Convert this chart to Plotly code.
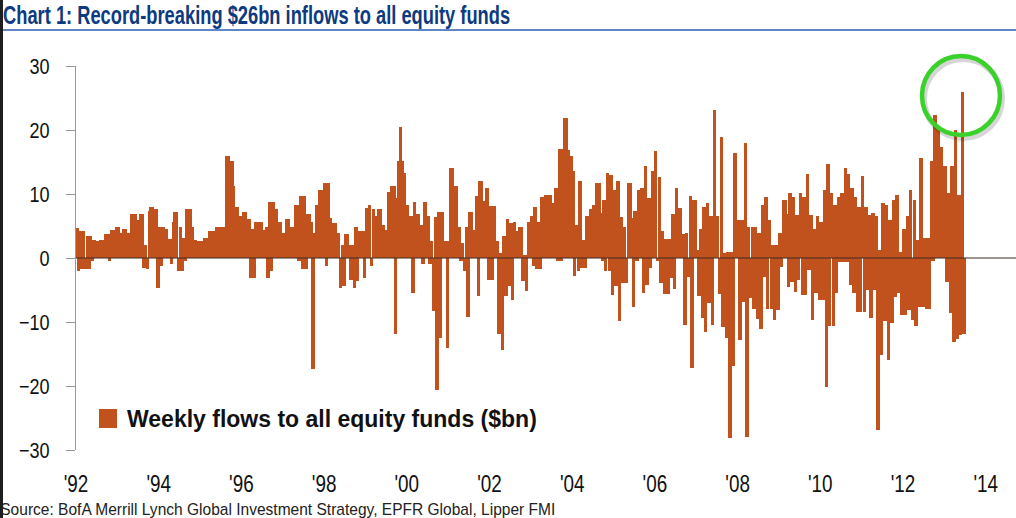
import plotly.graph_objects as go

# Weekly flows to all equity funds ($bn), read from the chart as
# semi-monthly readings (two per month) for each year
flows_1992 = [4.7,-2.1, 4.2,-1.7, 4.2,-1.7, 3.5,-1.7, 3.5,-0.5, 2.8,2.6, 2.6,2.4, 2.8,2.5, 2.8,3.8, 3.8,-0.5, 4.3,3.6, 4.3,4.9]
flows_1993 = [4.9,3.9, 3.9,4.6, 4.6,3.9, 3.9,3.9, 6.9,6.6, 6.9,5.9, 5.9,6.9, 6.9,-1.6, 2.1,-1.7, 7.3,8.0, 8.0,7.1, 7.6,-4.7]
flows_1994 = [4.9,-1.3, 4.8,4.5, 4.5,2.9, 2.9,-0.9, 5.7,7.2, 7.2,-2.1, 4.9,-2.1, 3.1,-0.5, 7.7,7.7, 7.6,4.9, 2.8,2.8, 2.6,2.6]
flows_1995 = [2.6,2.6, 3.1,3.1, 3.1,4.2, 4.2,4.2, 3.4,4.9, 4.9,4.9, 4.9,4.9, 4.2,15.9, 15.9,15.1, 15.1,11.3, 8.0,8.0, 6.5,6.5]
flows_1996 = [6.5,7.2, 7.2,6.1, 6.1,-3.2, 4.5,-3.2, 5.7,5.7, 5.7,5.7, 4.3,4.3, 4.9,-3.2, 8.7,-2.1, 8.7,7.7, 7.7,5.7, 5.7,3.9]
flows_1997 = [3.9,3.9, 6.1,6.1, 4.9,4.9, 4.9,8.3, 8.3,-0.5, 9.7,-1.7, 9.7,-1.7, 6.8,6.8, 5.7,-17.4, 3.9,8.3, 8.3,10.7, 10.7,8.3]
flows_1998 = [11.7,-1.3, 11.7,6.2, 5.5,5.5, 5.5,3.9, 3.9,-4.7, 2.0,-4.4, 3.8,3.8, 2.0,-3.4, 2.0,-4.7, 4.9,-3.6, 4.2,4.2, 4.2,-3.1]
flows_1999 = [7.8,7.8, 8.3,-1.3, 7.7,6.6, 6.6,7.7, 7.7,5.2, 5.2,4.4, 4.4,10.3, 10.3,11.3, 11.3,-11.8, 9.4,15.1, 20.4,15.1, 13.3,8.3]
flows_2000 = [8.3,6.5, 6.5,-5.4, 8.7,6.8, 6.8,5.1, 5.1,-1.0, 8.7,6.5, 6.5,-1.0, 2.6,-8.3, 6.4,-20.6, 7.2,-12.5, 7.2,2.6, 2.6,-14.1]
flows_2001 = [2.6,14.0, 14.0,11.2, 11.2,4.9, 4.9,-0.5, 2.3,-2.1, 4.9,-9.2, 7.2,7.2, 4.4,4.4, 9.7,-6.0, 12.1,12.1, 8.9,8.9, 10.9,-3.4]
flows_2002 = [8.1,-3.4, 8.1,2.6, 2.6,-11.8, 0.8,-14.3, 3.4,-6.0, 6.1,-4.4, 5.5,-6.5, 5.7,4.2, 4.2,4.9, 4.9,-3.6, 0.5,-5.1, 5.7,5.7]
flows_2003 = [6.5,-1.3, 8.0,-1.7, 5.7,-1.7, 9.5,9.5, 9.9,9.9, 9.9,9.9, 8.6,8.6, 10.9,-0.5, 17.0,-0.5, 17.0,21.9, 21.9,16.9, 15.9,15.9]
flows_2004 = [13.6,-2.8, 5.2,-2.1, 12.1,-1.6, 2.8,-1.6, 6.5,6.5, 7.7,7.7, 8.3,8.3, 11.7,11.7, 7.0,-0.5, 9.1,-2.1, 13.3,-2.1, 12.9,-5.8]
flows_2005 = [10.7,-4.4, 12.1,-9.9, 6.4,-3.9, 4.9,-3.9, 11.7,11.7, 6.2,-7.7, 7.3,-0.5, 10.7,10.7, 10.9,-5.4, 14.3,-4.2, 9.4,-1.6, 13.6,13.6]
flows_2006 = [16.7,-0.5, 12.7,-3.9, 4.2,-5.7, 2.9,-5.7, 2.9,-3.1, 6.9,-4.8, 10.9,7.8, 7.8,3.8, 3.8,-10.4, 3.9,-2.9, 9.7,-17.2, 9.1,9.1]
flows_2007 = [1.3,-6.0, 4.5,-9.4, 8.0,-11.5, 8.6,-7.0, 6.5,-10.4, 23.1,6.5, 6.5,-5.7, 18.9,-10.8, 0.8,-12.5, 1.0,-28.1, 1.0,-16.8, 16.4,6.0]
flows_2008 = [6.0,-12.8, 6.0,-6.8, 18.0,-27.9, 4.9,-6.3, 4.9,-7.9, 4.9,-9.6, 3.9,-11.1, 8.3,-2.9, 9.5,-7.9, 6.0,-7.9, 2.0,-9.7, 2.0,-8.1]
flows_2009 = [3.9,-1.4, 9.1,9.1, 6.8,-4.5, 10.2,-3.7, 9.5,-5.3, 6.7,-3.4, 10.1,-5.8, 9.6,-5.8, 13.2,-1.9, 6.7,-9.7, 4.6,-5.5, 6.5,-6.6]
flows_2010 = [5.7,-6.6, 10.6,-20.1, 14.7,-10.7, 10.2,-10.7, 8.3,-5.5, 9.5,-0.7, 10.1,-0.7, 14.0,-0.7, 13.2,-4.2, 10.9,-5.5, 9.6,-8.4, 8.0,-8.4]
flows_2011 = [12.8,-8.4, 8.0,-5.0, 6.7,-9.4, 7.1,-5.0, 6.5,-26.9, 1.3,-15.2, 8.6,-9.9, 8.3,-15.9, 5.9,-10.2, 9.0,-6.1, 9.8,-5.5, 1.0,-8.9]
flows_2012 = [4.6,-8.9, 6.5,-8.1, 10.6,-9.7, 9.1,-10.7, 2.8,-7.6, 15.6,-7.6, 3.1,-7.9, 3.1,-7.9, 15.1,-0.5, 22.3,20.3, 20.3,17.3, 17.3,14.4]
flows_2013 = [14.4,-3.7, 10.1,-8.6, 14.4,-13.1, 20.0,-12.6, 9.8,-12.0, 26.0,-11.8]

flows_by_year = {
    1992: flows_1992, 1993: flows_1993, 1994: flows_1994, 1995: flows_1995,
    1996: flows_1996, 1997: flows_1997, 1998: flows_1998, 1999: flows_1999,
    2000: flows_2000, 2001: flows_2001, 2002: flows_2002, 2003: flows_2003,
    2004: flows_2004, 2005: flows_2005, 2006: flows_2006, 2007: flows_2007,
    2008: flows_2008, 2009: flows_2009, 2010: flows_2010, 2011: flows_2011,
    2012: flows_2012, 2013: flows_2013,
}

tick_years = list(range(1992, 2015, 2))
tick_labels = ["'92", "'94", "'96", "'98", "'00", "'02", "'04", "'06", "'08", "'10", "'12", "'14"]
y_ticks = [30, 20, 10, 0, -10, -20, -30]

title_text = "Chart 1: Record-breaking $26bn inflows to all equity funds"
legend_text = "Weekly flows to all equity funds ($bn)"
source_text = "Source: BofA Merrill Lynch Global Investment Strategy, EPFR Global, Lipper FMI"

xs, ys = [], []
for yr, vals in flows_by_year.items():
    n = 24
    for i, v in enumerate(vals):
        xs.append(yr + (i + 0.5) / n)
        ys.append(v)

BAR = "#C1521E"
SANS = "Liberation Sans, Arial, sans-serif"

fig = go.Figure()
fig.add_trace(go.Bar(
    x=xs, y=ys, width=0.082,
    marker=dict(color=BAR, line=dict(width=0)),
    showlegend=False, hoverinfo="x+y",
))

W, H = 1016, 518
ML, MR, MT, MB = 76, 0, 66, 68
pw, ph = W - ML - MR, H - MT - MB

def px_x(p):
    return (p - ML) / pw

def px_y(p):
    return (H - MB - p) / ph

shapes = [
    dict(type="line", xref="paper", yref="y", x0=0, x1=1, y0=0, y1=0,
         line=dict(color="#3b2a20", width=1), layer="above"),
    dict(type="line", xref="paper", yref="paper", x0=px_x(3), x1=px_x(1016),
         y0=px_y(30), y1=px_y(30), line=dict(color="#5f86c6", width=2)),
    dict(type="rect", xref="paper", yref="paper", x0=px_x(0), x1=px_x(3),
         y0=px_y(518), y1=px_y(0), fillcolor="#1e1e1e", line=dict(width=0)),
    dict(type="rect", xref="paper", yref="paper", x0=px_x(99), x1=px_x(117),
         y0=px_y(428), y1=px_y(409), fillcolor=BAR, line=dict(width=0)),
    dict(type="circle", xref="paper", yref="paper", x0=px_x(924), x1=px_x(1002),
         y0=px_y(138), y1=px_y(59), line=dict(color="rgba(0,0,0,0.16)", width=6)),
    dict(type="circle", xref="paper", yref="paper", x0=px_x(922), x1=px_x(1000),
         y0=px_y(135), y1=px_y(56), line=dict(color="#3ad12a", width=4.5)),
]

annotations = [
    dict(text=f"<b>{title_text}</b>", xref="paper", yref="paper",
         x=px_x(256.5), y=px_y(15), xanchor="center", yanchor="middle", showarrow=False,
         font=dict(family=SANS, size=25, color="#0d3a80")),
    dict(text=f"<b>{legend_text}</b>", xref="paper", yref="paper",
         x=px_x(125), y=px_y(418.5), xanchor="left", yanchor="middle", showarrow=False,
         font=dict(family=SANS, size=23, color="#111111")),
    dict(text=source_text, xref="paper", yref="paper",
         x=px_x(277.5), y=px_y(509), xanchor="center", yanchor="middle", showarrow=False,
         font=dict(family=SANS, size=17, color="#222222")),
]

fig.update_layout(
    width=W, height=H,
    margin=dict(l=ML, r=MR, t=MT, b=MB, pad=0),
    paper_bgcolor="white", plot_bgcolor="white",
    bargap=0,
    shapes=shapes, annotations=annotations,
    xaxis=dict(range=[1992, 1992 + pw / 41.35], tickvals=tick_years, ticktext=tick_labels,
               showgrid=False, zeroline=False, showline=False, ticks="",
               tickfont=dict(family=SANS, size=23, color="#111111"),
               ticklabelstandoff=18),
    yaxis=dict(range=[-30, 30], tickvals=y_ticks, showgrid=False, zeroline=False,
               showline=True, linecolor="#999999", linewidth=1,
               ticks="outside", ticklen=9, tickcolor="#999999",
               tickfont=dict(family=SANS, size=22, color="#111111"),
               ticklabelstandoff=12),
)

post = """
document.body.style.margin = '0';
var gd = document.getElementById('{plot_id}');
function squeeze(el, target) {
  el.setAttribute('textLength', target);
  el.setAttribute('lengthAdjust', 'spacingAndGlyphs');
}
gd.querySelectorAll('.xtick text, .ytick text').forEach(function (t) {
  squeeze(t, t.getComputedTextLength() * 0.82);
});
var anns = gd.querySelectorAll('g.annotation text.annotation-text');
if (anns.length >= 3) {
  squeeze(anns[0], 507);
  squeeze(anns[2], 555);
}
"""

fig.write_html("out.html", post_script=post, config={"displayModeBar": False})
